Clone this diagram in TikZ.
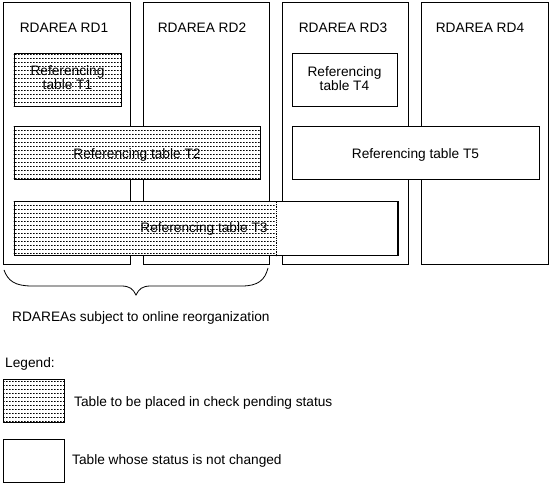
\documentclass[tikz,border=0pt]{standalone}
\usepackage{fontspec}
\setmainfont{Liberation Sans}
\usetikzlibrary{patterns}
\pgfdeclarepatternformonly{rowdash}{\pgfpointorigin}{\pgfpoint{3pt}{3.75pt}}{\pgfpoint{3pt}{3.75pt}}{%
  \pgfpathrectangle{\pgfpointorigin}{\pgfpoint{2pt}{1pt}}\pgfusepath{fill}}
\tikzset{
  area/.style={draw=black, line width=1pt, fill=white, minimum width=127pt, minimum height=262pt, inner sep=0pt},
  tbl/.style={draw=black, line width=1pt, fill=white, inner sep=0pt},
  dots/.style={pattern=rowdash, pattern color=black},
  lbl/.style={inner sep=0pt, anchor=base, align=center, font=\fontsize{13.7}{14}\selectfont},
  lblw/.style={lbl, anchor=base west},
}
\begin{document}
\begin{tikzpicture}[x=1pt,y=-1pt]
\useasboundingbox[fill=white] (0,0) rectangle (550,486);
% RDAREAs
\node[area] (rd1) at (66.5,134) {};
\node[area, minimum width=126pt] (rd2) at (206,134) {};
\node[area, minimum width=126pt] (rd3) at (345,134) {};
\node[area] (rd4) at (484.5,134) {};
\node[lbl] (l1) at (64,33) {RDAREA RD1};
\node[lbl] (l2) at (202,33) {RDAREA RD2};
\node[lbl] (l3) at (343,33) {RDAREA RD3};
\node[lbl] (l4) at (480,33) {RDAREA RD4};
% tables
\node[tbl, minimum width=107pt, minimum height=53pt] (t1) at (67.5,80.5) {};
\fill[dots] (t1.north west) rectangle (t1.south east);
\node[lbl] (t1l) at (67.5,90) {Referencing\\table T1};
\node[tbl, minimum width=246pt, minimum height=53pt] (t2) at (137,153.5) {};
\fill[dots] (t2.north west) rectangle (t2.south east);
\node[lbl] (t2l) at (137,159) {Referencing table T2};
\node[tbl, minimum width=383pt, minimum height=54pt] (t3) at (205.5,229) {};
\coordinate (t3m) at (276,202);
\coordinate (t3mb) at (276,256);
\fill[dots] (t3.north west) rectangle (t3mb);
\draw[densely dotted, line width=0.8pt] (t3m) -- (t3mb);
\draw[line width=2pt] ([xshift=0.5pt]t3.north east) -- ([xshift=0.5pt]t3.south east);
\node[lbl] (t3l) at (204,233) {Referencing table T3};
\node[tbl, minimum width=105pt, minimum height=53pt] (t4) at (344.5,80.5) {};
\node[lbl] (t4l) at (344.5,90.5) {Referencing\\table T4};
\node[tbl, minimum width=247pt, minimum height=53pt] (t5) at (415.5,153.5) {};
\node[lbl] (t5l) at (415.5,158.5) {Referencing table T5};
% brace
\coordinate (b1) at (4,270);
\coordinate (b2) at (136,295);
\coordinate (b3) at (268,268);
\draw[line width=0.8pt] (b1) .. controls (8,281) and (15,286) .. (32,286) -- (121,286)
  .. controls (130,286) and (133,289) .. (b2)
  .. controls (139,289) and (142,286) .. (151,286) -- (242,286)
  .. controls (258,286) and (265,280) .. (b3);
\node[lblw] (sub) at (12,322) {RDAREAs subject to online reorganization};
% legend
\node[lblw] (leg) at (5,367.5) {Legend:};
\node[tbl, minimum width=61pt, minimum height=43pt] (lg1) at (33.5,401.5) {};
\fill[dots] (lg1.north west) rectangle (lg1.south east);
\node[lblw] (lg1t) at (74,407) {Table to be placed in check pending status};
\node[tbl, minimum width=61pt, minimum height=43pt] (lg2) at (33.5,461.5) {};
\node[lblw] (lg2t) at (72,465) {Table whose status is not changed};
\end{tikzpicture}
\end{document}
